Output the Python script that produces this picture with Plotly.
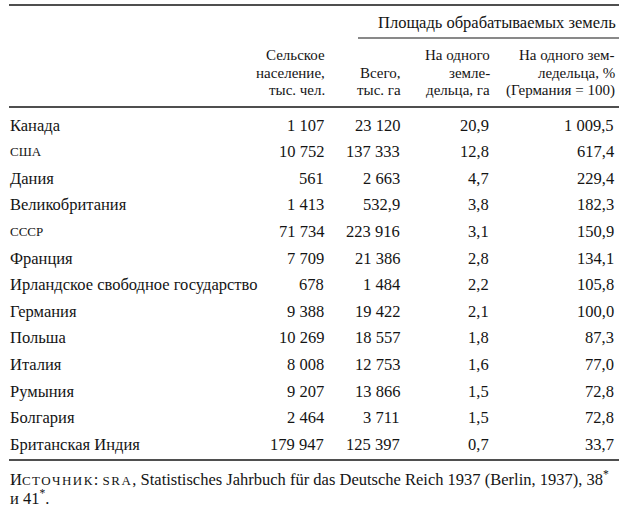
import plotly.graph_objects as go

# --- data ---
countries = [
    "Канада", "США", "Дания", "Великобритания", "СССР", "Франция",
    "Ирландское свободное государство", "Германия", "Польша", "Италия",
    "Румыния", "Болгария", "Британская Индия",
]
rural_pop = [1107, 10752, 561, 1413, 71734, 7709, 678, 9388, 10269, 8008, 9207, 2464, 179947]
area_total = [23120, 137333, 2663, 532.9, 223916, 21386, 1484, 19422, 18557, 12753, 13866, 3711, 125397]
area_per_farmer = [20.9, 12.8, 4.7, 3.8, 3.1, 2.8, 2.2, 2.1, 1.8, 1.6, 1.5, 1.5, 0.7]
index_germany = [1009.5, 617.4, 229.4, 182.3, 150.9, 134.1, 105.8, 100.0, 87.3, 77.0, 72.8, 72.8, 33.7]

span_header = "Площадь обрабатываемых земель"
col_headers = [
    ["Сельское", "население,", "тыс. чел."],
    ["Всего,", "тыс. га"],
    ["На одного", "земле-", "дельца, га"],
    ["На одного зем-", "ледельца, %", "(Германия = 100)"],
]
SC = "font-size:13px;letter-spacing:1.5px"
source_lines = [
    f"И<span style='{SC}'>СТОЧНИК</span>: <span style='{SC}'>SRA</span>, "
    "Statistisches Jahrbuch für das Deutsche Reich 1937 (Berlin, 1937), 38<sup>*</sup>",
    "и 41<sup>*</sup>.",
]
small_caps = {"США", "СССР"}

# --- layout constants ---
FONT = "Liberation Serif"
SIZE = 16.5
HEAD_SIZE = 15
INK = "#141414"
LEFT, RIGHT = 9, 619
COL_RIGHT = [325, 401, 490, 615]
ROW0, ROW_STEP = 125, 26.6
HEAD_LINES = [55, 73, 90]


def fmt(v, decimals=None):
    if decimals is None:
        decimals = 0 if float(v).is_integer() else 1
    s = f"{v:,.{decimals}f}"
    return s.replace(",", " ").replace(".", ",")


columns = [
    [fmt(v) for v in rural_pop],
    [fmt(v) for v in area_total],
    [fmt(v, 1) for v in area_per_farmer],
    [fmt(v, 1) for v in index_germany],
]

fig = go.Figure()
annotations = []


def add_text(x, y, text, anchor, size=SIZE):
    annotations.append(dict(
        x=x, y=y, xref="x", yref="y", text=text, showarrow=False,
        xanchor=anchor, yanchor="middle", align=anchor, borderpad=0,
        font=dict(family=FONT, size=size, color=INK),
    ))


# header
add_text(617, 22, span_header, "right", size=16.5)
for col, lines in zip(COL_RIGHT, col_headers):
    for line, y in zip(lines, HEAD_LINES[-len(lines):]):
        add_text(col + 1, y, line, "right", size=HEAD_SIZE)

# body
for i, name in enumerate(countries):
    y = ROW0 + i * ROW_STEP
    label = f"<span style='font-size:13px'>{name}</span>" if name in small_caps else name
    add_text(LEFT, y, label, "left")
    for col, vals in zip(COL_RIGHT, columns):
        add_text(col, y, vals[i], "right")

# source
add_text(LEFT, 478, source_lines[0], "left")
add_text(LEFT, 497, source_lines[1], "left")

# rules
rules = [(LEFT, RIGHT, 5, 1.6), (358, RIGHT, 38, 1.2), (LEFT, RIGHT, 107, 1.3), (LEFT, RIGHT, 460, 1.4)]
for x0, x1, y, w in rules:
    fig.add_shape(type="line", xref="x", yref="y", x0=x0, x1=x1, y0=y, y1=y,
                  line=dict(color=INK, width=w))

fig.update_layout(
    width=630, height=514,
    margin=dict(l=0, r=0, t=0, b=0),
    paper_bgcolor="white", plot_bgcolor="white",
    font=dict(family=FONT, size=SIZE, color=INK),
    annotations=annotations,
    showlegend=False,
    xaxis=dict(range=[0, 630], visible=False, fixedrange=True),
    yaxis=dict(range=[514, 0], visible=False, fixedrange=True),
)

fig.write_html("out.html", config={"displayModeBar": False},
               post_script="document.body.style.margin='0';")
